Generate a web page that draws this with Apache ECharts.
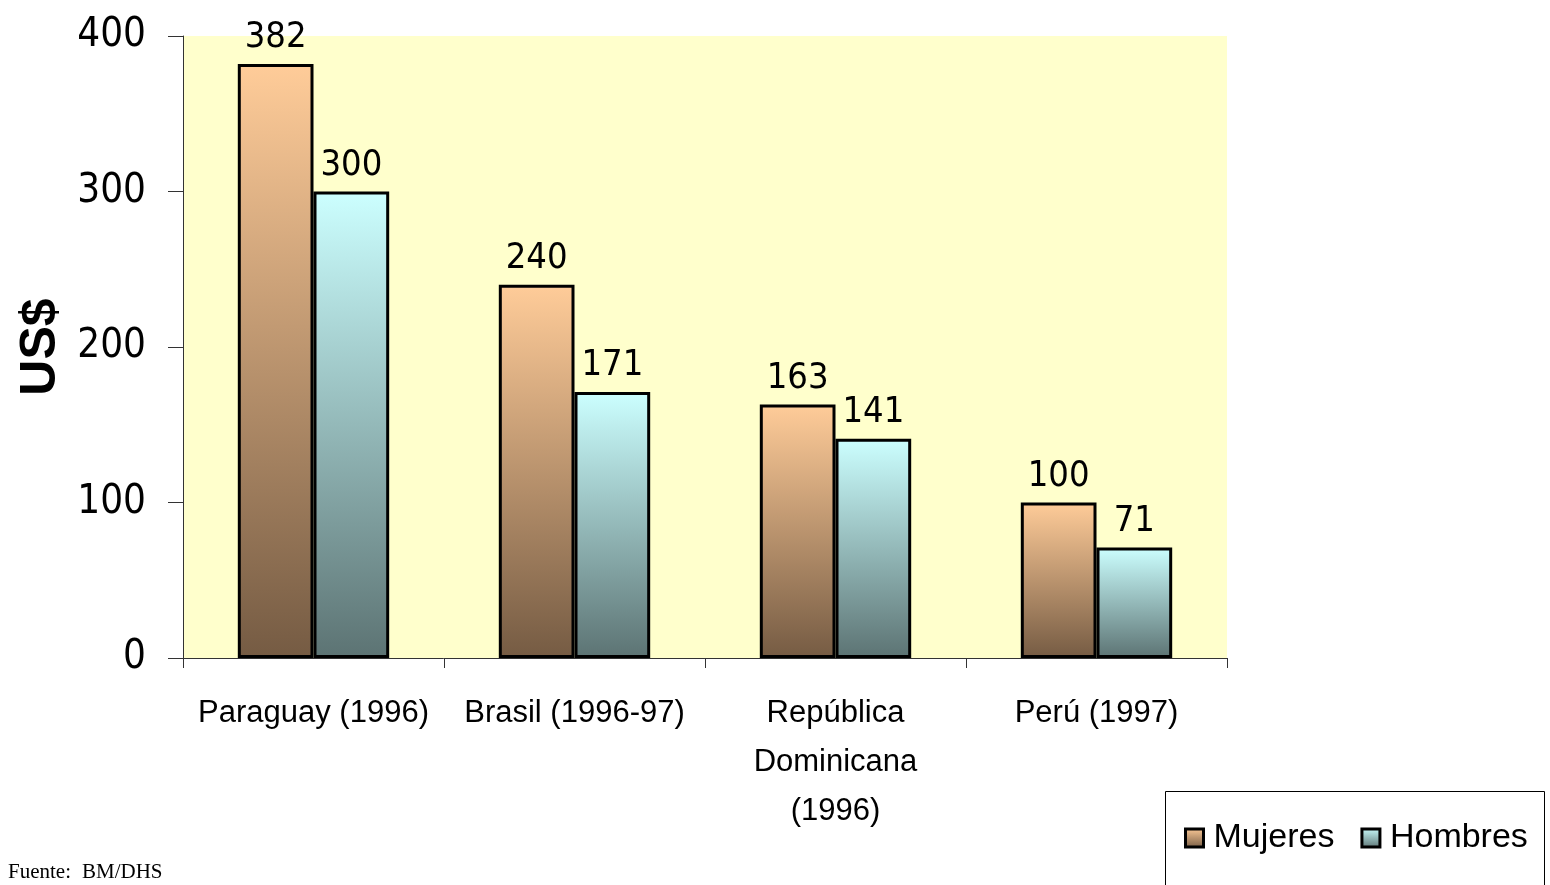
<!DOCTYPE html>
<html><head><meta charset="utf-8">
<script src="https://cdn.jsdelivr.net/npm/echarts@6/dist/echarts.min.js"></script>
<style>html,body{margin:0;padding:0;background:#fff}#c{width:1550px;height:885px}</style>
</head><body><div id="c"></div>
<script>
const categories = ['Paraguay (1996)', 'Brasil (1996-97)', 'República\nDominicana\n(1996)', 'Perú (1997)'];
const mujeres = [382, 240, 163, 100];
const hombres = [300, 171, 141, 71];
const yTicks = [0, 100, 200, 300, 400];

const narrow = '"Liberation Sans Narrow", "DejaVu Sans Condensed", "Liberation Sans", sans-serif';
function grad(top, bottom) {
  return {type: 'linear', x: 0, y: 0, x2: 0, y2: 1,
    colorStops: [{offset: 0, color: top}, {offset: 1, color: bottom}]};
}
const chart = echarts.init(document.getElementById('c'), null, {renderer: 'canvas'});
chart.setOption({
  animation: false,
  backgroundColor: '#ffffff',
  grid: {left: 183, right: 323, top: 36, bottom: 227, show: true,
    backgroundColor: '#FFFFCC', borderWidth: 0},
  xAxis: {
    type: 'category', data: categories,
    axisLine: {show: true, lineStyle: {color: '#333', width: 1}},
    axisTick: {show: true, length: 10, lineStyle: {color: '#333'}},
    axisLabel: {fontFamily: '"Liberation Sans", Arial, sans-serif', fontSize: 31, color: '#000',
      margin: 31, lineHeight: 49, interval: 0}
  },
  yAxis: {
    type: 'value', min: 0, max: 400, interval: 100,
    name: 'US$', nameLocation: 'middle', nameGap: 115, nameRotate: 90,
    nameTextStyle: {fontFamily: '"Liberation Sans", Arial, sans-serif', fontWeight: 'bold', fontSize: 50, color: '#000'},
    axisLine: {show: true, lineStyle: {color: '#333', width: 1}},
    axisTick: {show: true, inside: false, length: 15, lineStyle: {color: '#333'}},
    splitLine: {show: false},
    axisLabel: {fontFamily: narrow, fontSize: 40, color: '#000', margin: 37,
      formatter: v => yTicks.includes(v) ? String(v) : ''}
  },
  legend: {
    left: 1179, top: 816, itemWidth: 18, itemHeight: 18, itemGap: 26, icon: 'rect',
    itemStyle: {borderColor: '#000', borderWidth: 3},
    textStyle: {fontFamily: '"Liberation Sans", Arial, sans-serif', fontSize: 34, color: '#000', padding: [0, 0, 0, 5]},
    data: ['Mujeres', 'Hombres']
  },
  graphic: [
    {type: 'rect', left: 1163, top: 789, shape: {width: 379, height: 110},
      style: {fill: 'none', stroke: '#000', lineWidth: 1}},
    {type: 'text', left: 8, top: 862, style: {text: 'Fuente:',
      font: '21px "Liberation Serif", "Times New Roman", serif', fill: '#000'}},
    {type: 'text', left: 82, top: 862, style: {text: 'BM/DHS',
      font: '21px "Liberation Serif", "Times New Roman", serif', fill: '#000'}}
  ],
  series: [
    {name: 'Mujeres', type: 'bar', data: mujeres, barGap: '0%', barCategoryGap: '42%',
      itemStyle: {color: grad('#FFCC99', '#755B43'), borderColor: '#000', borderWidth: 3},
      label: {show: true, position: 'top', distance: 8, fontFamily: narrow, fontSize: 36, color: '#000'}},
    {name: 'Hombres', type: 'bar', data: hombres,
      itemStyle: {color: grad('#CCFFFF', '#5C7373'), borderColor: '#000', borderWidth: 3},
      label: {show: true, position: 'top', distance: 8, fontFamily: narrow, fontSize: 36, color: '#000'}}
  ]
});
</script></body></html>
